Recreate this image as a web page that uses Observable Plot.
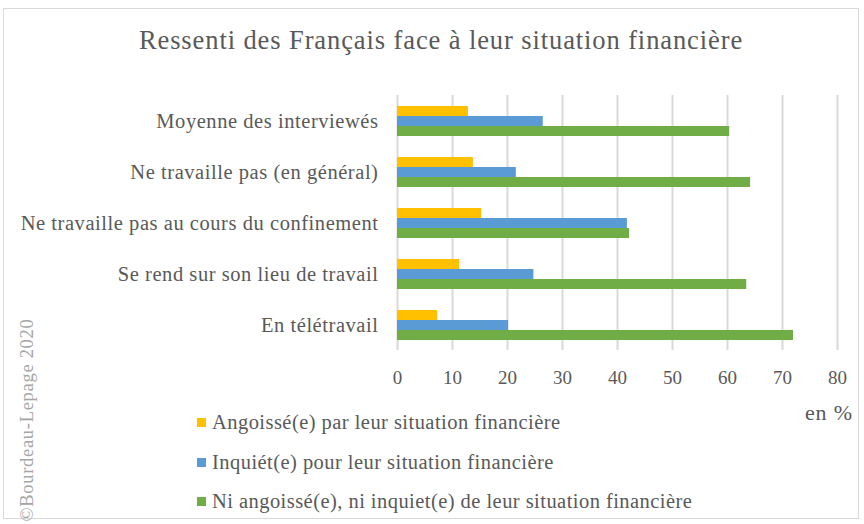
<!DOCTYPE html>
<html><head><meta charset="utf-8">
<script src="https://cdn.jsdelivr.net/npm/d3@7"></script>
<script src="https://cdn.jsdelivr.net/npm/@observablehq/plot@0.6"></script>
<style>
body{margin:0;background:#fff;}
.serif{font-family:"Liberation Serif","Times New Roman",Tinos,"DejaVu Serif",serif;}
#frame{position:absolute;left:3px;top:8px;width:856px;height:511px;border:1px solid #d9d9d9;box-sizing:border-box;}
#title{position:absolute;left:0;top:25px;width:882px;text-align:center;font-size:26.5px;line-height:30px;letter-spacing:0.9px;color:#595959;}
#chart{position:absolute;left:0;top:80px;}
#chart g[aria-label="fy-axis tick label"] text{font-size:20.5px;letter-spacing:0.55px;}
#unit{position:absolute;left:805px;top:400px;font-size:22px;line-height:26px;letter-spacing:0.8px;color:#595959;}
#legend{position:absolute;left:197px;top:403px;font-size:20.5px;letter-spacing:0.45px;color:#595959;}
.row{height:39.5px;display:flex;align-items:center;}
.sw{width:9px;height:9px;margin-right:6px;}
#copy{position:absolute;left:27px;top:420px;transform:translate(-50%,-50%) rotate(-90deg);white-space:nowrap;font-size:18.5px;letter-spacing:0.7px;color:#a6a6a6;}
</style></head>
<body>
<div id="frame"></div>
<div id="title" class="serif">Ressenti des Français face à leur situation financière</div>
<div id="chart"></div>
<div id="unit" class="serif">en %</div>
<div id="legend" class="serif"></div>
<div id="copy" class="serif">©Bourdeau-Lepage 2020</div>
<script>
const categories = ["Moyenne des interviewés","Ne travaille pas (en général)","Ne travaille pas au cours du confinement","Se rend sur son lieu de travail","En télétravail"];
const series = ["Angoissé(e) par leur situation financière","Inquiét(e) pour leur situation financière","Ni angoissé(e), ni inquiet(e) de leur situation financière"];
const colors = ["#FFC000","#5B9BD5","#70AD47"];
const angoisse = [12.9, 13.8, 15.3, 11.3, 7.3];
const inquiet = [26.5, 21.6, 41.8, 24.8, 20.2];
const ni = [60.4, 64.2, 42.2, 63.5, 72.0];
const xTicks = [0,10,20,30,40,50,60,70,80];

const values = [angoisse, inquiet, ni];
const data = [];
categories.forEach((c, i) => series.forEach((s, j) => data.push({category: c, serie: s, value: values[j][i]})));

const plot = Plot.plot({
  width: 864,
  height: 310,
  marginLeft: 397,
  marginRight: 27,
  marginTop: 15,
  marginBottom: 40,
  style: {fontFamily: "'Liberation Serif','Times New Roman',Tinos,serif", fontSize: "19px", color: "#595959", background: "transparent"},
  x: {domain: [0, 80], ticks: xTicks, tickSize: 0, tickPadding: 20, label: null, axis: "bottom"},
  y: {domain: series, axis: null, paddingInner: 0, paddingOuter: 0.92},
  fy: {domain: categories, padding: 0, tickSize: 0, tickPadding: 19, label: null, axis: "left"},
  color: {domain: series, range: colors},
  marks: [
    Plot.ruleX(xTicks, {stroke: "#d9d9d9", strokeWidth: 2, strokeOpacity: 1}),
    Plot.barX(data, {x: "value", y: "serie", fy: "category", fill: "serie", inset: 0}),
  ]
});
document.getElementById("chart").appendChild(plot);

const leg = document.getElementById("legend");
series.forEach((s, j) => {
  const r = document.createElement("div"); r.className = "row";
  const sw = document.createElement("div"); sw.className = "sw"; sw.style.background = colors[j];
  const t = document.createElement("span"); t.textContent = s;
  r.appendChild(sw); r.appendChild(t); leg.appendChild(r);
});
</script>
</body></html>
